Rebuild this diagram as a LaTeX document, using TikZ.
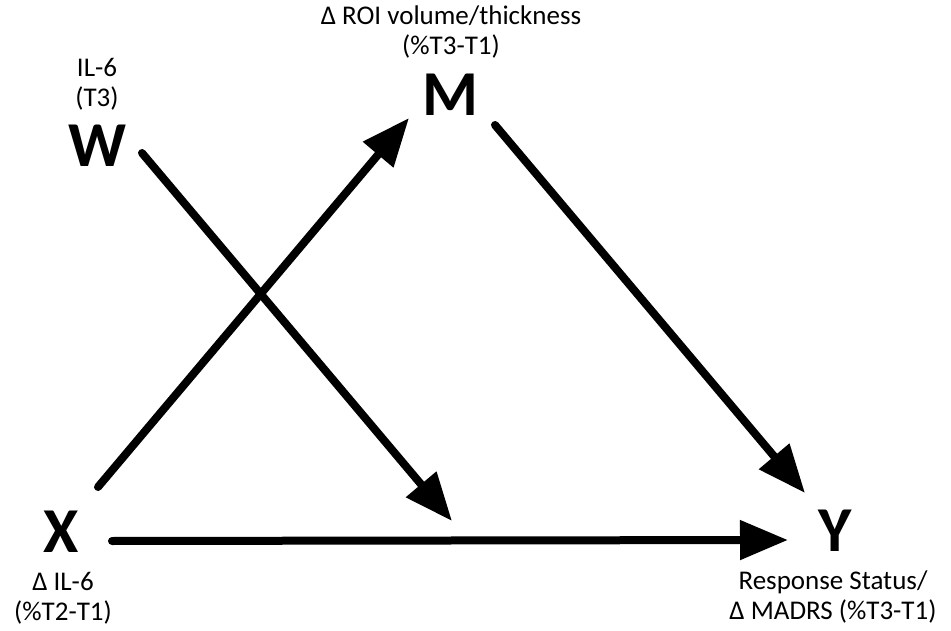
\documentclass[tikz,border=0pt]{standalone}
\usepackage{fontspec}
\setmainfont{Carlito}
\usepackage{tikz}
\usetikzlibrary{arrows.meta,positioning,calc}

\begin{document}
\begin{tikzpicture}[
  x=1pt, y=-1pt,
  var/.style={inner sep=0pt, font=\fontsize{64}{64}\selectfont\bfseries},
  lbl/.style={align=center, inner sep=0pt, font=\fontsize{27}{30}\selectfont},
  effect/.style={-{Triangle[length=48pt,width=38pt]}, line width=8pt, line cap=round}
]
\useasboundingbox (0,0) rectangle (951,631);

% Variables
\node[var] (W) at (97,146) {W};
\node[var] (M) at (450,95) {M};
\node[var] (X) at (61,532) {X};
\node[var] (Y) at (835,531) {Y};

% Labels
\node[lbl] (Wlab) at (97,84) {IL-6\\(T3)};
\node[lbl] (Mlab) at (451,32) {Δ ROI volume/thickness\\(\%T3-T1)};
\node[lbl] (Xlab) at (63,598) {Δ IL-6\\(\%T2-T1)};
\node[lbl] (Ylab) at (833,597) {Response Status/\\Δ MADRS (\%T3-T1)};

% Moderator arrow ends on the X-Y path
\coordinate (mod) at (452,521);

% Paths
\draw[effect] (X.center) ++(51,9) -- ([shift={(-47,9)}]Y.center);
\draw[effect] (X.center) ++(37,-45) -- ([shift={(-41,23)}]M.center);
\draw[effect] (M.center) ++(45,30) -- ([shift={(-30,-38)}]Y.center);
\draw[effect] (W.center) ++(45,7) -- (mod);
\end{tikzpicture}
\end{document}
